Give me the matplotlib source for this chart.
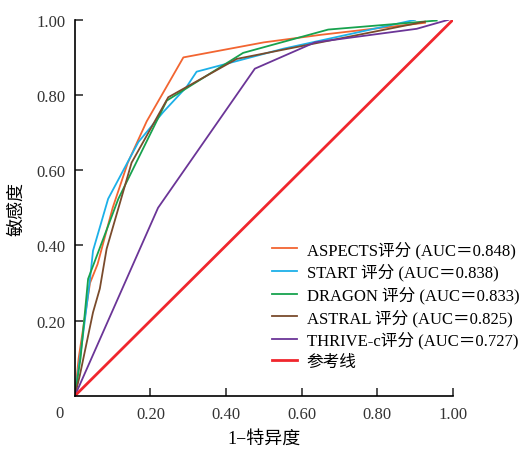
import matplotlib
matplotlib.use("Agg")
import matplotlib.pyplot as plt

plt.rcParams['font.family'] = ['Liberation Serif', 'Noto Sans CJK SC', 'DejaVu Sans']

# ROC points (x = 1 - specificity, y = sensitivity)
aspects_x = [0, 0.01, 0.04, 0.06, 0.10, 0.14, 0.19, 0.287, 0.50, 0.65, 0.926]
aspects_y = [0, 0.10, 0.30, 0.35, 0.50, 0.62, 0.73, 0.90, 0.94, 0.96, 0.992]

start_x = [0, 0.02, 0.04, 0.048, 0.088, 0.168, 0.234, 0.295, 0.322, 0.551, 0.90]
start_y = [0, 0.15, 0.31, 0.386, 0.524, 0.675, 0.755, 0.821, 0.862, 0.923, 1.0]

dragon_x = [0, 0.015, 0.035, 0.115, 0.243, 0.445, 0.67, 0.957]
dragon_y = [0, 0.10, 0.311, 0.524, 0.785, 0.912, 0.974, 0.998]

astral_x = [0, 0.013, 0.048, 0.066, 0.084, 0.15, 0.247, 0.428, 0.926]
astral_y = [0, 0.054, 0.222, 0.285, 0.391, 0.62, 0.794, 0.896, 0.995]

thrive_x = [0, 0.22, 0.476, 0.635, 0.904, 0.988]
thrive_y = [0, 0.50, 0.87, 0.94, 0.976, 1.0]

ref_x = [0, 1]
ref_y = [0, 1]

labels = ['ASPECTS评分 (AUC＝0.848)', 'START 评分 (AUC＝0.838)', 'DRAGON 评分 (AUC＝0.833)',
          'ASTRAL 评分 (AUC＝0.825)', 'THRIVE-c评分 (AUC＝0.727)', '参考线']
colors = ['#F26531', '#1CB0E8', '#17A24E', '#7A4B2C', '#6B3597', '#F0262D']

fig = plt.figure(figsize=(5.31, 4.52), dpi=100)
ax = fig.add_axes([0.141, 0.122, 0.712, 0.832])

series = [(aspects_x, aspects_y), (start_x, start_y), (dragon_x, dragon_y),
          (astral_x, astral_y), (thrive_x, thrive_y)]
for (xs, ys), c, lab in zip(series, colors[:5], labels[:5]):
    ax.plot(xs, ys, color=c, lw=1.3, label=lab)
ax.plot(ref_x, ref_y, color=colors[5], lw=2, label=labels[5])

ax.set_xlim(0, 1)
ax.set_ylim(0, 1)
ax.spines['top'].set_visible(False)
ax.spines['right'].set_visible(False)
ax.spines['left'].set_linewidth(1.2)
ax.spines['bottom'].set_linewidth(1.2)
ax.set_xticks([0.2, 0.4, 0.6, 0.8, 1.0])
ax.set_xticklabels(['0.20', '0.40', '0.60', '0.80', '1.00'])
ax.set_yticks([0.2, 0.4, 0.6, 0.8, 1.0])
ax.set_yticklabels(['0.20', '0.40', '0.60', '0.80', '1.00'])
ax.tick_params(direction='in', length=6, width=1.2, labelsize=12, colors='#333333', pad=7)
ax.text(-0.03, -0.025, '0', transform=ax.transAxes, ha='right', va='top', fontsize=12, color='#333333')

ax.set_xlabel('1−特异度', fontsize=13, labelpad=6)
ax.set_ylabel('敏感度', fontsize=13, labelpad=8)

leg = ax.legend(loc='lower right', bbox_to_anchor=(1.215, 0.03), frameon=False, fontsize=12,
                handlelength=1.5, labelspacing=0.3, handletextpad=0.55)

fig.savefig('out.png', dpi=100)
